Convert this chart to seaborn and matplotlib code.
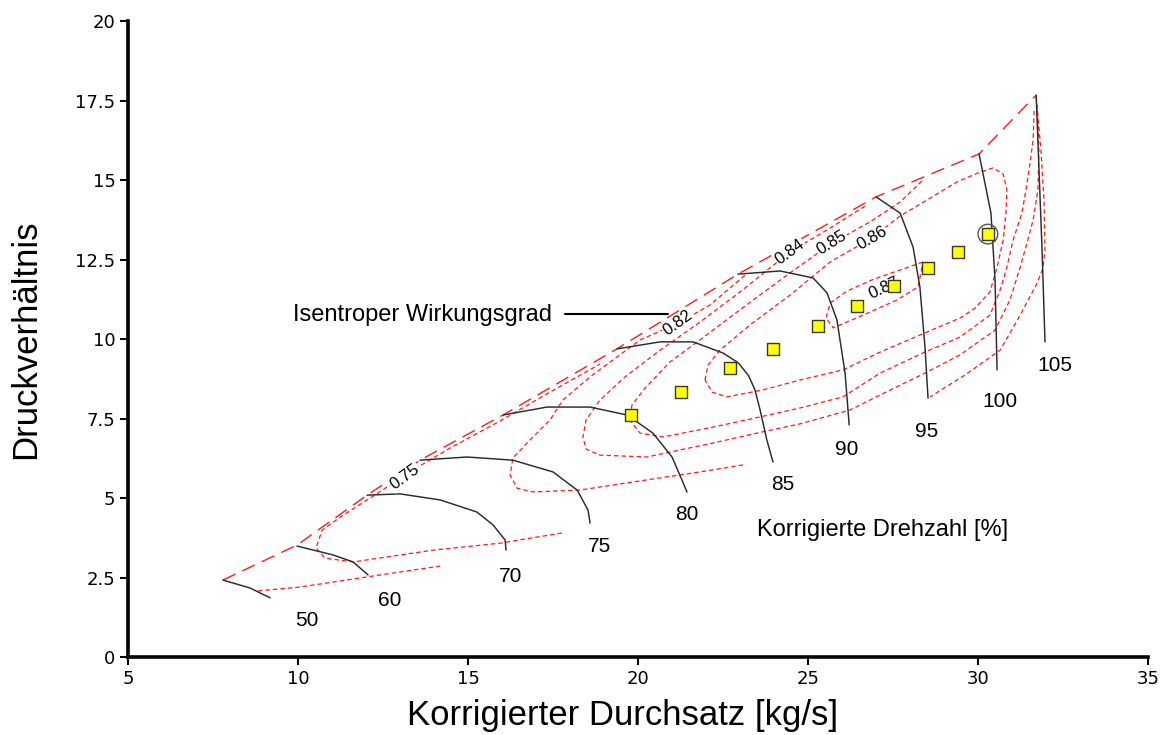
import matplotlib
matplotlib.use("Agg")
import matplotlib.pyplot as plt
import seaborn as sns
import pandas as pd

# ---------------- data ----------------
# Speed lines (corrected speed in %), mass flow [kg/s] vs pressure ratio
spd50_x = [7.79, 8.59, 9.18]
spd50_y = [2.42, 2.17, 1.86]
spd60_x = [9.97, 11.03, 11.62, 12.06]
spd60_y = [3.49, 3.21, 2.99, 2.58]
spd70_x = [12.03, 13.0, 14.18, 15.26, 15.74, 16.09, 16.12]
spd70_y = [5.09, 5.13, 4.94, 4.56, 4.15, 3.68, 3.36]
spd75_x = [13.59, 14.97, 16.32, 17.5, 18.21, 18.53, 18.59]
spd75_y = [6.19, 6.29, 6.19, 5.82, 5.25, 4.62, 4.21]
spd80_x = [16.03, 17.32, 18.59, 19.68, 20.44, 21.0, 21.29, 21.44]
spd80_y = [7.61, 7.86, 7.86, 7.61, 7.04, 6.29, 5.57, 5.19]
spd85_x = [19.38, 20.65, 21.62, 22.5, 22.95, 23.25, 23.44, 23.59, 23.79, 23.97]
spd85_y = [9.69, 9.91, 9.91, 9.56, 9.25, 8.85, 8.40, 7.77, 6.82, 6.13]
spd90_x = [22.94, 24.18, 25.15, 25.56, 25.85, 26.09, 26.21]
spd90_y = [12.04, 12.14, 11.92, 11.45, 10.60, 8.93, 7.30]
spd95_x = [27.0, 27.71, 28.09, 28.29, 28.44, 28.53]
spd95_y = [14.47, 13.96, 12.89, 11.64, 9.75, 8.14]
spd100_x = [30.03, 30.38, 30.5, 30.56]
spd100_y = [15.82, 13.96, 11.86, 9.03]
spd105_x = [31.71, 31.88, 31.97]
spd105_y = [17.67, 12.89, 9.91]

speed_labels = ["50", "60", "70", "75", "80", "85", "90", "95", "100", "105"]
speed_label_x = [10.26, 12.71, 16.24, 18.88, 21.44, 24.26, 26.15, 28.5, 30.65, 32.26]
speed_label_y = [1.16, 1.79, 2.52, 3.46, 4.47, 5.41, 6.54, 7.08, 8.05, 9.18]

# Surge line
surge_x = [7.79, 9.97, 12.03, 13.59, 16.03, 19.38, 22.94, 27.0, 30.03, 31.71]
surge_y = [2.42, 3.52, 5.09, 6.19, 7.61, 9.69, 12.04, 14.47, 15.82, 17.67]

# Efficiency contours
eta70_x = [8.82, 10.06, 12.41, 14.18]
eta70_y = [2.08, 2.20, 2.58, 2.86]
eta75_x = [17.76, 15.94, 13.97, 11.62, 10.79, 10.53, 10.71, 11.24, 12.21, 13.38,
           14.47, 15.94, 17.41, 18.88]
eta75_y = [3.90, 3.58, 3.36, 2.99, 3.11, 3.43, 3.99, 4.40, 5.06, 5.88,
           6.57, 7.42, 8.33, 9.21]
eta82a_x = [23.09, 21.82, 20.26, 18.29, 16.91, 16.44, 16.24, 16.32, 16.82, 17.41,
            17.79, 18.59, 20.06, 21.18, 22.12, 23.15]
eta82a_y = [6.04, 5.82, 5.57, 5.25, 5.19, 5.31, 5.72, 6.26, 6.82, 7.45,
            8.08, 8.81, 9.97, 10.50, 11.07, 12.01]
eta82b_x = [31.71, 31.85, 31.94, 31.97, 31.91, 31.74, 31.24, 30.65, 29.62, 28.59]
eta82b_y = [17.61, 15.94, 14.37, 12.80, 12.23, 11.76, 10.75, 9.65, 8.87, 8.18]
eta84_x = [26.68, 25.65, 24.47, 23.0, 21.82, 20.65, 19.62, 18.88, 18.47, 18.38,
           18.47, 18.88, 20.26, 22.21, 23.79, 24.76, 26.24, 27.12, 28.5, 29.47,
           30.5, 30.94, 31.24, 31.44, 31.62, 31.76, 31.79, 31.74]
eta84_y = [14.18, 13.49, 12.74, 11.48, 10.53, 9.65, 8.81, 8.08, 7.45, 6.92,
           6.54, 6.35, 6.29, 6.73, 7.11, 7.33, 7.77, 8.24, 8.96, 9.50,
           10.28, 11.23, 12.26, 13.02, 13.74, 14.69, 15.94, 17.36]
eta85_x = [28.35, 27.71, 26.82, 25.71, 24.47, 23.15, 21.97, 20.94, 20.21, 19.82,
           19.76, 20.06, 20.74, 22.21, 23.59, 24.76, 26.03, 27.12, 28.44, 29.47,
           30.35, 30.65, 30.85, 31.03, 31.29, 31.41, 31.53, 31.62, 31.65]
eta85_y = [14.97, 14.31, 13.68, 13.02, 12.08, 11.04, 10.09, 9.28, 8.46, 7.92,
           7.45, 7.04, 6.92, 7.23, 7.55, 7.83, 8.18, 8.93, 9.59, 10.06,
           10.75, 11.54, 12.26, 13.11, 13.96, 14.69, 15.53, 16.26, 17.20]
eta86_x = [21.97, 22.06, 22.41, 23.29, 24.47, 25.65, 26.88, 27.71, 28.59, 29.38,
           30.06, 30.44, 30.74, 30.85, 30.82, 30.74, 30.56, 30.35, 29.91, 29.47,
           28.5, 27.12, 26.03, 24.76, 23.68, 22.62, 22.18, 21.97]
eta86_y = [8.71, 9.18, 9.65, 10.44, 11.38, 12.42, 13.18, 13.87, 14.43, 14.94,
           15.25, 15.38, 15.19, 14.69, 13.96, 13.11, 12.26, 11.48, 10.97, 10.66,
           10.22, 9.59, 9.03, 8.71, 8.40, 8.18, 8.33, 8.71]
eta87_x = [28.38, 27.62, 26.88, 26.15, 25.65, 25.53, 25.74, 26.62, 27.62, 28.24, 28.38]
eta87_y = [12.42, 12.14, 11.86, 11.51, 11.13, 10.66, 10.35, 10.75, 11.23, 11.64, 12.42]

eta_labels = ["0.75", "0.82", "0.84", "0.85", "0.86", "0.87"]
eta_label_x = [13.15, 21.18, 24.47, 25.71, 26.88, 27.24]
eta_label_y = [5.66, 10.50, 12.74, 13.02, 13.18, 11.60]
eta_label_rot = [36, 36, 36, 32, 30, 25]

# Operating points
op_x = [19.79, 21.26, 22.71, 23.97, 25.29, 26.44, 27.53, 28.53, 29.41, 30.29]
op_y = [7.61, 8.33, 9.09, 9.69, 10.41, 11.04, 11.67, 12.23, 12.74, 13.30]
design_x = [30.29]
design_y = [13.30]

x_ticks = [5, 10, 15, 20, 25, 30, 35]
y_ticks = [0, 2.5, 5, 7.5, 10, 12.5, 15, 17.5, 20]
y_tick_labels = ["0", "2.5", "5", "7.5", "10", "12.5", "15", "17.5", "20"]

# ---------------- plotting ----------------
sns.set_theme(style="white")
plt.rcParams["font.family"] = ["Liberation Sans", "DejaVu Sans"]
plt.rcParams["text.color"] = "black"
plt.rcParams["axes.labelcolor"] = "black"

fig = plt.figure(figsize=(11.68, 7.35), dpi=100)
ax = fig.add_axes([0.1096, 0.1061, 0.8733, 0.8653])

def line(xs, ys, **kw):
    df = pd.DataFrame({"x": xs, "y": ys})
    sns.lineplot(data=df, x="x", y="y", sort=False, estimator=None,
                 errorbar=None, ax=ax, legend=False, **kw)

# efficiency contours (fine red dashes)
eff_style = dict(color="#ff1a1a", linewidth=0.9, linestyle=(0, (3.6, 2.4)), zorder=2)
for xs, ys in [(eta70_x, eta70_y), (eta75_x, eta75_y), (eta82a_x, eta82a_y),
               (eta82b_x, eta82b_y), (eta84_x, eta84_y), (eta85_x, eta85_y),
               (eta86_x, eta86_y), (eta87_x, eta87_y)]:
    line(xs, ys, **eff_style)

# surge line (long red dashes)
line(surge_x, surge_y, color="#ff1a1a", linewidth=1.0,
     linestyle=(0, (10, 5.5)), zorder=3)

# speed lines
speed_x = [spd50_x, spd60_x, spd70_x, spd75_x, spd80_x, spd85_x, spd90_x,
           spd95_x, spd100_x, spd105_x]
speed_y = [spd50_y, spd60_y, spd70_y, spd75_y, spd80_y, spd85_y, spd90_y,
           spd95_y, spd100_y, spd105_y]
for xs, ys in zip(speed_x, speed_y):
    line(xs, ys, color="#2a2a2a", linewidth=1.05, zorder=4)

for lab, lx, ly in zip(speed_labels, speed_label_x, speed_label_y):
    ax.text(lx, ly, lab, ha="center", va="center", fontsize=15, color="black",
            zorder=6)

for lab, lx, ly, rot in zip(eta_labels, eta_label_x, eta_label_y, eta_label_rot):
    ax.text(lx, ly, lab, ha="center", va="center", fontsize=12, color="black",
            rotation=rot, rotation_mode="anchor", zorder=5,
            bbox=dict(boxstyle="square,pad=0.05", fc="white", ec="none"))

# operating points
sns.scatterplot(x=op_x, y=op_y, marker="s", s=85, color="#ffff00",
                edgecolor="#3a3a1a", linewidth=1.0, ax=ax, zorder=7, legend=False)
ax.scatter(design_x, design_y, marker="o", s=200, facecolors="none",
           edgecolors="#555555", linewidths=1.0, zorder=6)

# annotation texts
ax.text(17.47, 10.77, "Isentroper Wirkungsgrad", ha="right", va="center",
        fontsize=17, color="black")
line([17.85, 20.88], [10.79, 10.79], color="black", linewidth=1.5, zorder=5)
ax.text(23.5, 3.99, "Korrigierte Drehzahl [%]", ha="left", va="center",
        fontsize=17, color="black")

# axes styling
ax.set_xlim(5, 35)
ax.set_ylim(0, 20)
ax.set_xticks(x_ticks)
ax.set_xticklabels([str(t) for t in x_ticks])
ax.set_yticks(y_ticks)
ax.set_yticklabels(y_tick_labels)
ax.tick_params(axis="both", which="major", direction="out", length=6, width=1.5,
               labelsize=13, colors="black", labelcolor="black", pad=3,
               bottom=True, left=True)
for lab in ax.get_xticklabels() + ax.get_yticklabels():
    lab.set_family(["DejaVu Sans"])
for side in ["top", "right"]:
    ax.spines[side].set_visible(False)
for side in ["left", "bottom"]:
    ax.spines[side].set_linewidth(2.6)
    ax.spines[side].set_color("black")
ax.set_xlabel("Korrigierter Durchsatz [kg/s]", fontsize=25, color="black")
ax.set_ylabel("Druckverhältnis", fontsize=25, color="black")
ax.xaxis.set_label_coords(0.485, -0.066)
ax.yaxis.set_label_coords(-0.084, 0.5)
ax.grid(False)
ax.set_facecolor("white")
fig.patch.set_facecolor("white")

fig.savefig("out.png", dpi=100, facecolor="white")
